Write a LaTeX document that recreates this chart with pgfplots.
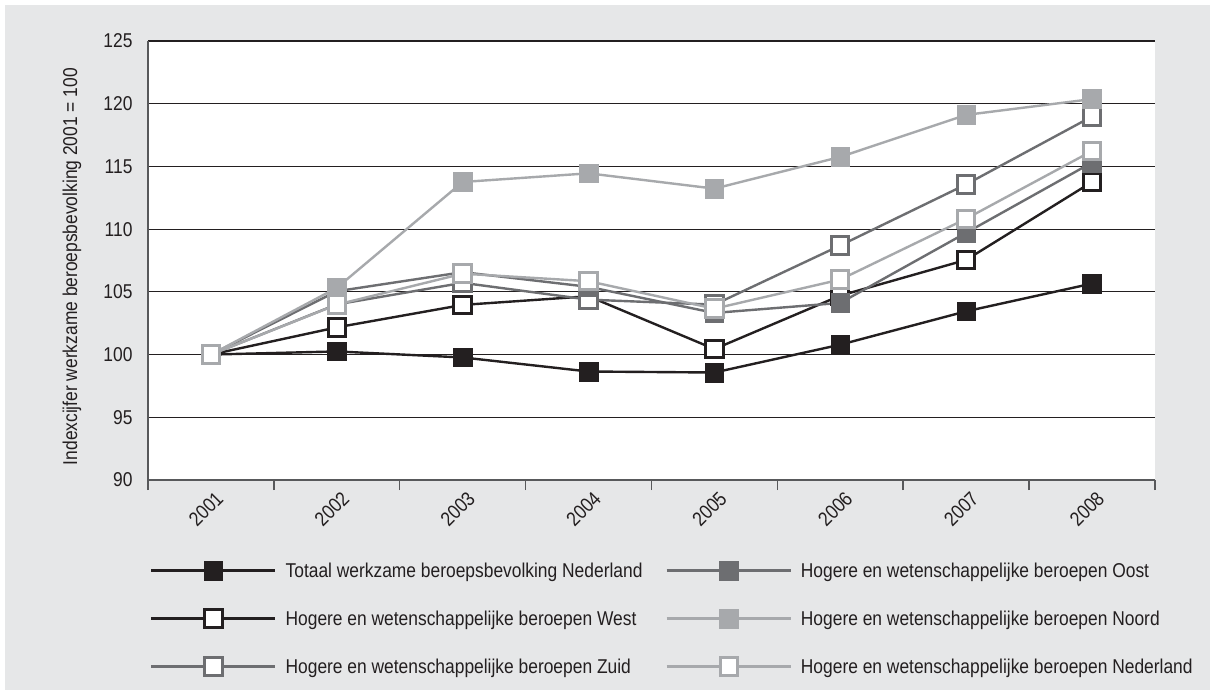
\documentclass[border=0pt]{standalone}
\usepackage{fontspec}
\setmainfont{Liberation Sans}[FakeStretch=0.87]
\usepackage{pgfplots}
\pgfplotsset{compat=1.18}
\usepackage{pgfplotstable}
\definecolor{cblack}{HTML}{231F20}
\definecolor{cdark}{HTML}{6D6E71}
\definecolor{clight}{HTML}{A7A9AC}
\definecolor{cbg}{HTML}{E6E7E8}
\definecolor{caxis}{HTML}{58595B}

\pgfplotstableread{
x tot west zuid oost noord ned
0 100 100 100 100 100 100
1 100.25 102.17 104.00 105.05 105.32 103.98
2 99.77 103.96 105.72 106.57 113.76 106.45
3 98.65 104.65 104.38 105.40 114.45 105.85
4 98.57 100.44 103.98 103.32 113.23 103.66
5 100.79 104.70 108.70 104.12 115.76 105.98
6 103.45 107.55 113.57 109.71 119.11 110.83
7 105.66 113.76 118.98 115.31 120.37 116.23
}\data

\begin{document}
\begin{tikzpicture}[font=\fontsize{20}{24}\selectfont, x=1pt, y=1pt, color=cblack]
\useasboundingbox (0,0) rectangle (1210,691);
\fill[white] (0,0) rectangle (1210,691);
\fill[cbg] (5,1) rectangle (1210,686);
\begin{axis}[
  at={(148pt,211pt)}, anchor=south west,
  scale only axis, width=1007pt, height=439pt,
  xmin=-0.5, xmax=7.5, ymin=90, ymax=125,
  axis background/.style={fill=white},
  axis lines=left, axis line style={-, caxis, line width=1.8pt},
  xtick={0,1,2,3,4,5,6,7},
  xticklabels={2001,2002,2003,2004,2005,2006,2007,2008},
  minor xtick={-0.5,0.5,1.5,2.5,3.5,4.5,5.5,6.5,7.5},
  ytick={90,95,100,105,110,115,120,125},
  ymajorgrids, grid style={cblack, line width=1.2pt},
  major tick length=0pt, minor tick length=10pt, tick align=outside,
  minor tick style={caxis, line width=1.5pt},
  /pgf/number format/assume math mode=true,
  xticklabel style={xshift=-5pt, yshift=-29pt, rotate=45, anchor=center, text=cblack},
  yticklabel style={xshift=-12pt, text=cblack},
  ylabel={Indexcijfer werkzame beroepsbevolking 2001 = 100},
  every axis y label/.style={at={(axis description cs:-0.0755,0.486)}, rotate=90, anchor=center, text=cblack},
  clip=false,
  legend image code/.code={\draw[mark repeat=2, mark phase=2, #1] plot coordinates {(0pt,0pt) (62pt,0pt) (124pt,0pt)};},
  legend style={at={(axis description cs:0.002,-0.183)}, anchor=north west, draw=none, fill=none, inner sep=0pt,
    legend columns=2, row sep=28pt, legend cell align=left,
    nodes={inner xsep=0pt, inner ysep=2pt, text=cblack},
    /tikz/every odd column/.append style={column sep=9pt},
    /tikz/every even column/.append style={column sep=23pt}},
]
\addplot[cblack, line width=2.4pt, forget plot, mark=square*, mark size=9.3pt, mark options={fill=cblack, draw=cblack, line width=0.6pt}] table[x=x, y=tot] {\data};
\addplot[cblack, line width=2.4pt, forget plot, mark=square*, mark size=8.7pt, mark options={fill=white, draw=cblack, line width=3pt}] table[x=x, y=west] {\data};
\addplot[cdark, line width=2.4pt, forget plot, mark=square*, mark size=8.7pt, mark options={fill=white, draw=cdark, line width=3pt}] table[x=x, y=zuid] {\data};
\addplot[cdark, line width=2.4pt, forget plot, mark=square*, mark size=9.3pt, mark options={fill=cdark, draw=cdark, line width=0.6pt}] table[x=x, y=oost] {\data};
\addplot[clight, line width=2.4pt, forget plot, mark=square*, mark size=9.3pt, mark options={fill=clight, draw=clight, line width=0.6pt}] table[x=x, y=noord] {\data};
\addplot[clight, line width=2.4pt, forget plot, mark=square*, mark size=8.7pt, mark options={fill=white, draw=clight, line width=3pt}] table[x=x, y=ned] {\data};

\addlegendimage{cblack, line width=2.4pt, mark=square*, mark size=9.3pt, mark options={fill=cblack, draw=cblack, line width=0.6pt}}
\addlegendentry{Totaal werkzame beroepsbevolking Nederland}
\addlegendimage{cdark, line width=2.4pt, mark=square*, mark size=9.3pt, mark options={fill=cdark, draw=cdark, line width=0.6pt}}
\addlegendentry{Hogere en wetenschappelijke beroepen Oost}
\addlegendimage{cblack, line width=2.4pt, mark=square*, mark size=8.7pt, mark options={fill=white, draw=cblack, line width=3pt}}
\addlegendentry{Hogere en wetenschappelijke beroepen West}
\addlegendimage{clight, line width=2.4pt, mark=square*, mark size=9.3pt, mark options={fill=clight, draw=clight, line width=0.6pt}}
\addlegendentry{Hogere en wetenschappelijke beroepen Noord}
\addlegendimage{cdark, line width=2.4pt, mark=square*, mark size=8.7pt, mark options={fill=white, draw=cdark, line width=3pt}}
\addlegendentry{Hogere en wetenschappelijke beroepen Zuid}
\addlegendimage{clight, line width=2.4pt, mark=square*, mark size=8.7pt, mark options={fill=white, draw=clight, line width=3pt}}
\addlegendentry{Hogere en wetenschappelijke beroepen Nederland}
\end{axis}
\end{tikzpicture}
\end{document}
